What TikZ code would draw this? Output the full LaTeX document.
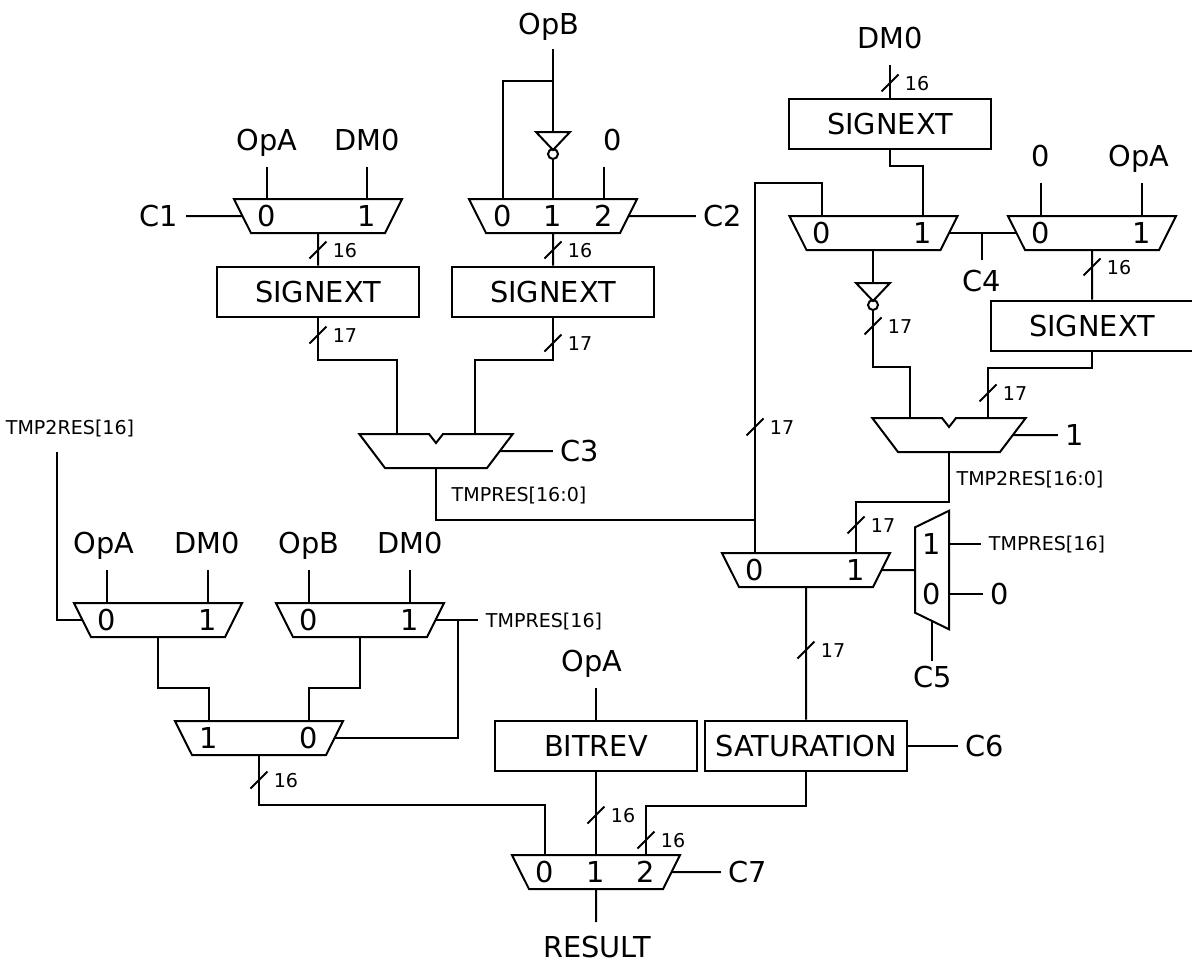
\documentclass[tikz,border=0pt]{standalone}
\usepackage{fontspec}
\setmainfont{DejaVu Sans}
\usetikzlibrary{calc,shapes.geometric}
\tikzset{
  every path/.style={line width=1.5pt},
  lbl/.style={font=\fontsize{21.6}{24}\selectfont,text height=15.8pt,text depth=0pt,inner ysep=0pt,inner xsep=5.2pt,minimum height=#1},
  lbl/.default=39pt,
  tag/.style={font=\fontsize{14.3}{16}\selectfont,text height=10.4pt,text depth=0pt,inner ysep=0pt,inner xsep=5.2pt},
  num/.style={font=\fontsize{21.6}{24}\selectfont,text height=15.8pt,text depth=0pt,inner sep=0pt},
  blockbox/.style={draw,line width=1.5pt,font=\fontsize{21.6}{24}\selectfont,text height=15.8pt,text depth=0pt,minimum width=151pt,minimum height=38pt,inner sep=0pt},
  mux/.style={draw,line width=1.5pt,trapezium,shape border rotate=180,trapezium left angle=63.4,trapezium right angle=63.4,inner sep=0pt,outer sep=0pt},
  adder/.style={mux,trapezium left angle=52.9,trapezium right angle=52.9},
  sidemux/.style={mux,shape border rotate=90,trapezium left angle=64,trapezium right angle=64},
  bubble/.style={draw,line width=1.5pt,circle,minimum size=7.5pt,inner sep=0pt,outer sep=0pt},
}
\newcommand{\muxfill}[2]{\phantom{\rule{#1pt}{#2pt}}}
\newcommand{\addnotch}[1]{%
  \draw[white,line width=2.5pt] ($(#1.north)+(-6,0)$) -- ($(#1.north)+(6,0)$);
  \draw ($(#1.north)+(-7,0)$) -- ($(#1.north)+(0,9)$) -- ($(#1.north)+(7,0)$);
}
\newcommand{\invgate}[1]{\draw (#1) ++(-17,0) -- ++(34,0) -- ++(-17,18) -- cycle;}
\begin{document}
\begin{tikzpicture}[x=0.75pt,y=-0.75pt]
  \useasboundingbox (0,0) rectangle (1192,961);
  \foreach \n/\x/\y in {muxa/318/216,muxb/553/216,muxd/873.5/233,muxe/1092/233,muxf/806/570,muxh/596/872,muxi/158/620,muxj/360/620,muxk/259/738}
    \node[mux] (\n) at (\x,\y) {\muxfill{100.5}{25.5}};
  \foreach \n/\x/\y in {adda/436/451,addb/949/435}
    {\node[adder] (\n) at (\x,\y) {\muxfill{76.5}{25.5}}; \addnotch{\n}}
  \node[sidemux] (muxg) at (932,570) {\muxfill{25.5}{64}};
  \foreach \n/\x/\y/\d in {muxa0/267/215.5/0,muxa1/367/215.5/1,muxb0/503/215.5/0,muxb1/553/215.5/1,muxb2/604/215.5/2,muxd0/822/232.5/0,muxd1/923/232.5/1,muxe0/1041/232.5/0,muxe1/1142/232.5/1,muxf0/755/569.5/0,muxf1/856/569.5/1,muxg1/932/544/1,muxg0/932/594/0,muxh0/545/871.5/0,muxh1/596/871.5/1,muxh2/646/871.5/2,muxi0/107/619.5/0,muxi1/208/619.5/1,muxj0/309/619.5/0,muxj1/410/619.5/1,muxk1/209/737.5/1,muxk0/309/737.5/0}
    \node[num] (\n) at (\x,\y) {\d};
  \foreach \n/\x/\y/\t in {boxa/318/292/SIGNEXT,boxb/553/292/SIGNEXT,boxc/890/124/SIGNEXT,boxd/1092/326/SIGNEXT,boxe/596/746/BITREV,boxf/806/746/SATURATION}
    \node[blockbox] (\n) at (\x,\y) {\t};
  \foreach \n/\x/\y/\t in {opa1/267/140/OpA,dma/367/140/DM0,zeroa/613/140/0,dmb/890/38/DM0,zerob/1041/156/0,opa2/1139/156/OpA,opa3/104/543/OpA,dmc/207/543/DM0,opb2/309/543/OpB,dmd/410/543/DM0,opa4/592/661/OpA}
    \node[lbl] (\n) at (\x,\y) {\t};
  \node[lbl=36pt] (opb1) at (549,24) {OpB};
  \node[lbl=10pt] (result) at (597,947) {RESULT};
  \node[lbl=30pt] (c4) at (982,281) {C4};
  \node[lbl=22pt] (c5) at (933,677) {C5};
  \foreach \n/\x/\y/\t in {c1/159/216/C1,c2/723/216/C2,c3/580/451/C3,c6/985/746/C6,c7/748/872/C7,one/1075/435/1,zeroc/1000/594/0}
    \node[lbl=10pt] (\n) at (\x,\y) {\t};
  \node[tag] (tmp2resa) at (70,428) {TMP2RES[16]};
  \node[tag] (tmpresa) at (519,495) {TMPRES[16:0]};
  \node[tag] (tmp2resb) at (1030,479) {TMP2RES[16:0]};
  \node[tag] (tmpresb) at (1047,544) {TMPRES[16]};
  \node[tag] (tmpresc) at (544,621) {TMPRES[16]};
  \foreach \x/\y/\w [count=\i] in {318/250/16,553/250/16,890/83/16,1092/267/16,318/335/17,553/343/17,873/326/17,988/393/17,755/427/17,856/525/17,806/650/17,259/780/16,596/815/16,646/840/16}
    {\coordinate (tick\i) at (\x,\y);
     \draw ($(tick\i)+(-8.5,8.5)$) -- ($(tick\i)+(8.5,-8.5)$);
     \node[tag,inner xsep=0pt] (bus\i) at ($(tick\i)+(27,1)$) {\w};}
  \coordinate (inva) at (553,132);
  \coordinate (invb) at (873,283);
  \invgate{inva}
  \invgate{invb}
  \node[bubble] (bubblea) at (553,154) {};
  \node[bubble] (bubbleb) at (873,305) {};
  \coordinate (tapa) at (553,81);
  \coordinate (tapb) at (458,620);
  \coordinate (tapc) at (755,520);
  \coordinate (adda0) at (397,435);
  \coordinate (adda1) at (475,435);
  \coordinate (addb0) at (910,418);
  \coordinate (addb1) at (988,418);
  \coordinate (tmpsrc) at (57,452);
  \coordinate (resultpin) at (596,922);
  \draw (opa1) -- (muxa0 |- muxa.north);
  \draw (dma) -- (muxa1 |- muxa.north);
  \draw (opb1.south -| inva) -- (inva);
  \draw (tapa) -| (muxb0 |- muxb.north);
  \draw (bubblea) -- (muxb1 |- muxb.north);
  \draw (zeroa.south -| muxb2) -- (muxb2 |- muxb.north);
  \draw (c1) -- (muxa.west);
  \draw (muxb.east) -- (c2);
  \draw (muxa.south) -- (boxa.north);
  \draw (muxb.south) -- (boxb.north);
  \draw (boxa.south) -- ++(0,42) -| (adda0);
  \draw (boxb.south) -- ++(0,42) -| (adda1);
  \draw (adda.east) -- (c3);
  \draw (adda.south) |- (tapc);
  \draw (muxf0 |- muxf.north) -- ++(0,-370) -| (muxd0 |- muxd.north);
  \draw (dmb) -- (boxc.north);
  \draw (boxc.south) -- ++(0,16) -| (muxd1 |- muxd.north);
  \draw (zerob) -- (muxe0 |- muxe.north);
  \draw (opa2.south -| muxe1) -- (muxe1 |- muxe.north);
  \draw (muxd.east) -- (muxe.west);
  \draw (c4) -- (c4 |- muxd.east);
  \draw (muxd.south -| invb) -- (invb);
  \draw (muxe.south) -- (boxd.north);
  \draw (bubbleb) -- ++(0,62) -| (addb0);
  \draw (boxd.south) -- ++(0,16) -| (addb1);
  \draw (addb.east) -- (one);
  \draw (addb.south) -- ++(0,50) -| (muxf1 |- muxf.north);
  \draw (muxf.east) -- (muxg.west);
  \draw (muxg1 -| muxg.east) -- (tmpresb);
  \draw (muxg0 -| muxg.east) -- (zeroc);
  \draw (muxg.south) -- (muxg.south |- c5.north);
  \draw (muxf.south) -- (boxf.north);
  \draw (boxf.east) -- (c6);
  \draw (opa4.south -| boxe) -- (boxe.north);
  \draw (boxe.south) -- (muxh1 |- muxh.north);
  \draw (boxf.south) -- ++(0,34) -| (muxh2 |- muxh.north);
  \draw (muxh.east) -- (c7);
  \draw (muxh.south) -- (resultpin);
  \draw (tmpsrc) |- (muxi.west);
  \draw (opa3.south -| muxi0) -- (muxi0 |- muxi.north);
  \draw (dmc.south -| muxi1) -- (muxi1 |- muxi.north);
  \draw (opb2) -- (muxj0 |- muxj.north);
  \draw (dmd) -- (muxj1 |- muxj.north);
  \draw (muxj.east) -- (tmpresc.west |- muxj.east);
  \draw (tapb) |- (muxk.east);
  \draw (muxi.south) -- ++(0,51) -| (muxk1 |- muxk.north);
  \draw (muxj.south) -- ++(0,51) -| (muxk0 |- muxk.north);
  \draw (muxk.south) -- ++(0,50) -| (muxh0 |- muxh.north);
\end{tikzpicture}
\end{document}
